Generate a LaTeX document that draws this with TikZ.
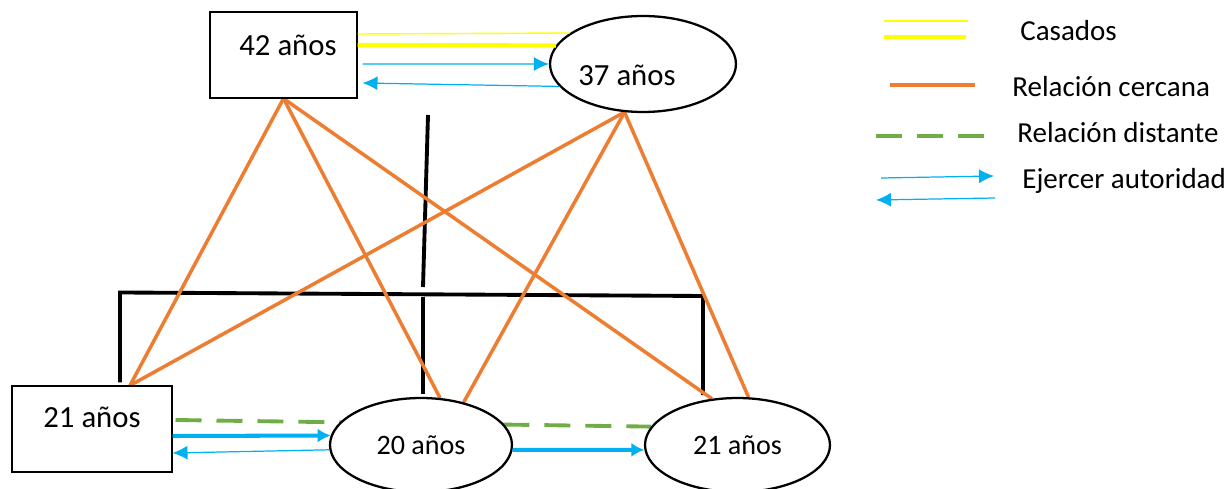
\documentclass[tikz,border=0pt]{standalone}
\usepackage{fontspec}
\setmainfont{Carlito}
\usetikzlibrary{arrows.meta,shapes.geometric,backgrounds}
\definecolor{amarillo}{HTML}{FFFF00}
\definecolor{naranja}{HTML}{ED7D31}
\definecolor{verde}{HTML}{70AD47}
\definecolor{azul}{HTML}{00B0F0}
\begin{document}
\begin{tikzpicture}[x=0.02cm, y=-0.02cm,
  caja/.style={draw, rectangle, line width=0.6pt, inner sep=0pt, fill=white},
  elipse/.style={draw, ellipse, line width=1.3pt, inner sep=0pt, fill=white},
  every label/.style={font=\fontsize{17.5}{20}\selectfont},
  casado/.style={amarillo, line width=0.8pt},
  casadoG/.style={amarillo, line width=2.4pt},
  cerca/.style={naranja, line width=2pt},
  lejos/.style={verde, line width=2.2pt, dash pattern=on 0.52cm off 0.3cm},
  manda/.style={azul, line width=0.7pt, -{Latex[length=0.3cm,width=0.28cm]}},
  mandaG/.style={azul, line width=2.3pt, -{Latex[length=0.26cm,width=0.28cm]}},
  leyenda/.style={anchor=west, inner sep=0pt, font=\fontsize{16.5}{19}\selectfont}]
  \useasboundingbox (0,0) rectangle (1230,489);

  % padres
  \node (p42) [caja, minimum width=2.94cm, minimum height=1.72cm,
    label={[xshift=0.09cm, yshift=0.2cm]center:42 años}] at (283.5,55) {};
  \node (p37) [elipse, minimum width=3.72cm, minimum height=1.92cm,
    label={[xshift=-0.32cm, yshift=-0.22cm]center:37 años}] at (643,64) {};

  % hijos
  \node (h21) [caja, minimum width=3.2cm, minimum height=1.72cm,
    label={[yshift=0.24cm]center:21 años}] at (92,429) {};
  \node (h20) [elipse, minimum width=3.64cm, minimum height=1.88cm,
    font=\fontsize{16}{19}\selectfont] at (421,445) {20 años};
  \node (h21b) [elipse, minimum width=3.7cm, minimum height=1.88cm,
    font=\fontsize{16}{19}\selectfont] at (737.5,445) {21 años};

  \begin{pgfonlayer}{background}
    % estructura
    \draw[line width=2.2pt] ([xshift=0.56cm, yshift=0.06cm]h21.north) -- ++(0,-90) -- (703,296) -- ++(0,99);
    \draw[line width=2.2pt] (428,115) -- (423,287);
    \draw[line width=2.2pt] (423,297) -- ([xshift=0.04cm, yshift=0.06cm]h20.north);

    % relaciones cercanas
    \draw[cerca] (p42.south) -- ([xshift=0.76cm]h21.north);
    \draw[cerca] (p42.south) -- (h20.68);
    \draw[cerca] (p42.south) -- (h21b.119);
    \draw[cerca] (p37.249) -- ([xshift=0.76cm]h21.north);
    \draw[cerca] (p37.249) -- (h20.45);
    \draw[cerca] (p37.249) -- (h21b.77);

    % relacion distante
    \draw[lejos] ([xshift=0.06cm, yshift=0.18cm]h21.east) -- (h21b.168);
  \end{pgfonlayer}

  % casados
  \draw[casado] ([yshift=0.42cm]p42.east) -- (p37.157);
  \draw[casadoG] ([yshift=0.2cm]p42.east) -- (p37.168);

  % autoridad
  \draw[manda] ([xshift=0.1cm, yshift=-0.18cm]p42.east) -- (p37.180);
  \draw[manda] (p37.195) -- ([xshift=0.1cm, yshift=-0.56cm]p42.east);
  \draw[mandaG] ([yshift=-0.14cm]h21.east) -- (h20.174);
  \draw[manda] (h20.183) -- ([yshift=-0.48cm]h21.east);
  \draw[mandaG] (h20.357) -- (h21b.183);

  % leyenda
  \draw[casado] (884,21) -- (968,21);
  \draw[casadoG] (884,37) -- (966,37);
  \node (lcas) [leyenda] at (1020,31) {Casados};
  \draw[cerca] (890,85) -- (975,85);
  \node (lcer) [leyenda] at (1012,87) {Relación cercana};
  \draw[lejos] (876,136) -- (986,136);
  \node (llej) [leyenda] at (1017,133) {Relación distante};
  \draw[manda] (881,178) -- (994,176);
  \draw[manda] (995,198) -- (876,200);
  \node (laut) [leyenda] at (1022,181) {Ejercer autoridad};
\end{tikzpicture}
\end{document}
